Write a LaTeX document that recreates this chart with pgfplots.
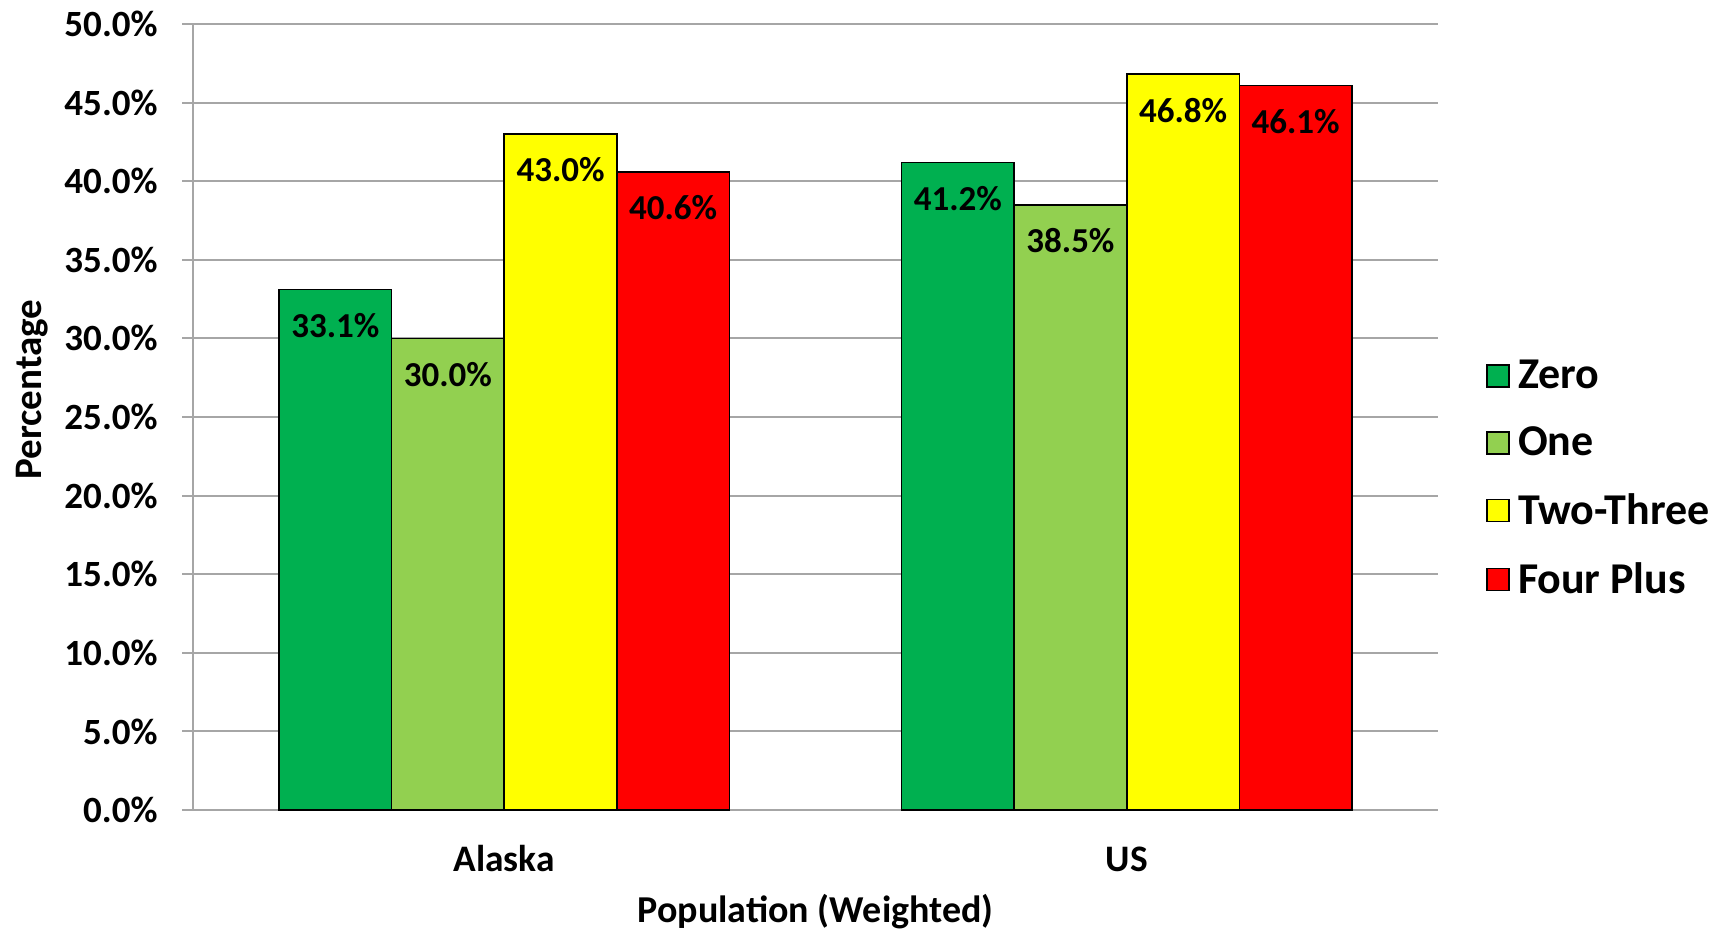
\documentclass[border=0pt]{standalone}
\usepackage{fontspec}
\setmainfont{Carlito}
\usepackage{pgfplots}
\pgfplotsset{compat=1.18}
\definecolor{cZero}{HTML}{00B050}
\definecolor{cOne}{HTML}{92D050}
\definecolor{cTwo}{HTML}{FFFF00}
\definecolor{cFour}{HTML}{FF0000}
\definecolor{gridc}{HTML}{A6A6A6}
\begin{document}
\begin{tikzpicture}
\useasboundingbox (0,0) rectangle (863.5pt,465.5pt);
\begin{axis}[
  at={(96.5pt,60.5pt)}, anchor=south west,
  scale only axis, width=622.5pt, height=393pt,
  ybar=0pt, bar width=56.3pt,
  xmin=-0.5, xmax=1.5, ymin=0, ymax=50,
  xtick={0,1}, xticklabels={Alaska,US},
  ytick={0,5,...,50},
  yticklabels={0.0\%,5.0\%,10.0\%,15.0\%,20.0\%,25.0\%,30.0\%,35.0\%,40.0\%,45.0\%,50.0\%},
  /pgf/number format/assume math mode=true,
  axis x line*=bottom, axis y line*=left,
  axis line style={gridc, line width=1pt, -},
  x axis line style={draw=none},
  ymajorgrids, grid style={gridc, line width=1pt},
  major tick length=5.5pt, tick align=outside,
  xtick style={draw=none},
  ytick style={gridc, line width=1pt},
  tick label style={font=\fontsize{18.5}{20}\selectfont\bfseries},
  yticklabel style={anchor=east, inner sep=0pt, xshift=-12pt},
  xticklabel style={anchor=center, yshift=-19pt, font=\fontsize{18.7}{20}\selectfont\bfseries},
  xlabel={Population (Weighted)},
  ylabel={Percentage},
  label style={font=\fontsize{19}{21}\selectfont\bfseries},
  xlabel style={at={(axis description cs:0.5,0)}, anchor=center, yshift=-51pt},
  ylabel style={at={(axis description cs:0,0.5)}, anchor=center, yshift=80.5pt, xshift=13.75pt, font=\fontsize{19.5}{21}\selectfont\bfseries},
  nodes near coords={\pgfmathprintnumber[fixed,fixed zerofill,precision=1]{\pgfplotspointmeta}\%},
  nodes near coords style={anchor=center, yshift=-18pt, font=\fontsize{17.5}{19}\selectfont\bfseries, black},
  legend style={at={(axis description cs:1,0.422)}, anchor=west, xshift=21pt, draw=none, fill=none,
    font=\fontsize{22}{24}\selectfont\bfseries, row sep=13.5pt,
    /tikz/every odd column/.append style={column sep=2pt}},
  legend cell align=left,
  legend image code/.code={\draw[#1, draw=black, line width=0.8pt] (0pt,-5.5pt) rectangle (11pt,5.5pt);},
  every axis plot/.append style={draw=black, line width=0.8pt},
]
\addplot[fill=cZero] coordinates {(0,33.1) (1,41.2)};
\addplot[fill=cOne] coordinates {(0,30.0) (1,38.5)};
\addplot[fill=cTwo] coordinates {(0,43.0) (1,46.8)};
\addplot[fill=cFour] coordinates {(0,40.6) (1,46.1)};
\legend{Zero,One,Two-Three,Four Plus}
\end{axis}
\end{tikzpicture}
\end{document}
